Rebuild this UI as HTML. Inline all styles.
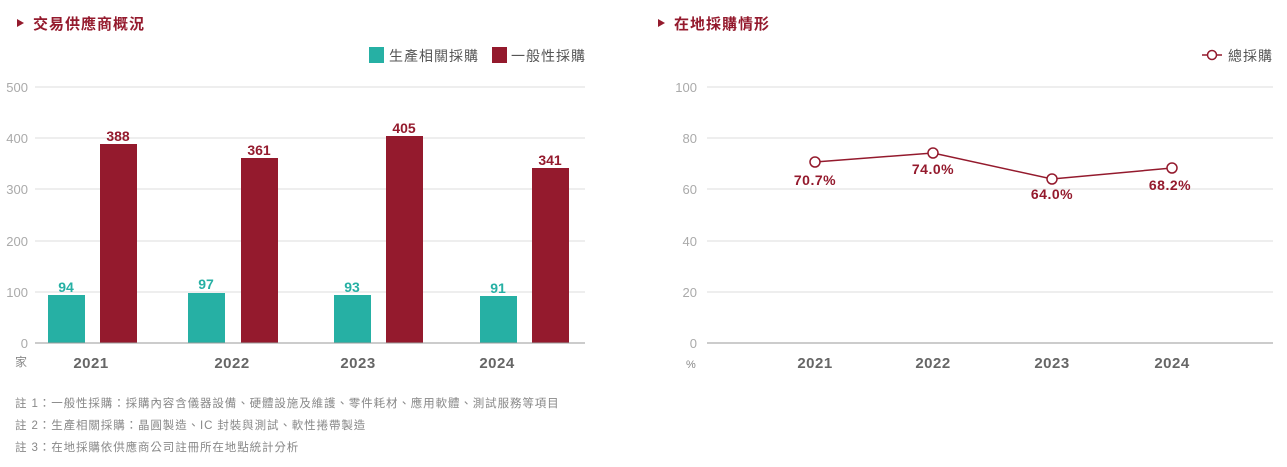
<!DOCTYPE html>
<html><head><meta charset="utf-8"><style>
body{margin:0;background:#fff;width:1287px;height:462px;overflow:hidden;font-family:"Liberation Sans","Noto Sans CJK TC",sans-serif}
svg text{font-family:"Liberation Sans","Noto Sans CJK TC",sans-serif}
</style></head><body>
<svg width="1287" height="462" xmlns="http://www.w3.org/2000/svg">
<polygon points="17,19 17,27 24,23" fill="#941a2d"/>
<text x="33" y="29" font-size="15" font-weight="bold" fill="#941a2d" letter-spacing="1">交易供應商概況</text>
<polygon points="658,19 658,27 665,23" fill="#941a2d"/>
<text x="674" y="29" font-size="15" font-weight="bold" fill="#941a2d" letter-spacing="1">在地採購情形</text>
<rect x="369" y="47" width="15" height="16" fill="#26b0a4"/>
<text x="389" y="61" font-size="14" fill="#555" letter-spacing="1">生產相關採購</text>
<rect x="492" y="47" width="15" height="16" fill="#941a2d"/>
<text x="511" y="61" font-size="14" fill="#555" letter-spacing="1">一般性採購</text>
<g stroke="#ddd" stroke-width="1">
<line x1="35" y1="87" x2="585" y2="87"/><line x1="35" y1="138" x2="585" y2="138"/>
<line x1="35" y1="189" x2="585" y2="189"/><line x1="35" y1="241" x2="585" y2="241"/>
<line x1="35" y1="292" x2="585" y2="292"/>
</g>
<g font-size="13" fill="#aaa" text-anchor="end">
<text x="28" y="92">500</text><text x="28" y="143">400</text><text x="28" y="194">300</text>
<text x="28" y="246">200</text><text x="28" y="297">100</text><text x="28" y="348">0</text>
</g>
<g fill="#26b0a4">
<rect x="48" y="295" width="37" height="48"/><rect x="188" y="293" width="37" height="50"/>
<rect x="334" y="295" width="37" height="48"/><rect x="480" y="296" width="37" height="47"/>
</g>
<g fill="#941a2d">
<rect x="100" y="144" width="37" height="199"/><rect x="241" y="158" width="37" height="185"/>
<rect x="386" y="136" width="37" height="207"/><rect x="532" y="168" width="37" height="175"/>
</g>
<line x1="35" y1="343" x2="585" y2="343" stroke="#999" stroke-width="1"/>
<g font-size="14" font-weight="bold" text-anchor="middle" fill="#26b0a4">
<text x="66" y="292">94</text><text x="206" y="289">97</text><text x="352" y="292">93</text><text x="498" y="293">91</text>
</g>
<g font-size="14" font-weight="bold" text-anchor="middle" fill="#941a2d">
<text x="118" y="141">388</text><text x="259" y="155">361</text><text x="404" y="133">405</text><text x="550" y="165">341</text>
</g>
<text x="15" y="366" font-size="12" fill="#888">家</text>
<g font-size="15" font-weight="bold" text-anchor="middle" fill="#666" letter-spacing="0.5">
<text x="91" y="368">2021</text><text x="232" y="368">2022</text><text x="358" y="368">2023</text><text x="497" y="368">2024</text>
</g>
<g font-size="11.5" fill="#888" letter-spacing="0.9">
<text x="15" y="407">註 1：一般性採購：採購內容含儀器設備、硬體設施及維護、零件耗材、應用軟體、測試服務等項目</text>
<text x="15" y="429">註 2：生產相關採購：晶圓製造、IC 封裝與測試、軟性捲帶製造</text>
<text x="15" y="451">註 3：在地採購依供應商公司註冊所在地點統計分析</text>
</g>
<line x1="1202" y1="55" x2="1222" y2="55" stroke="#941a2d" stroke-width="1.5"/>
<circle cx="1212" cy="55" r="4.5" fill="#fff" stroke="#941a2d" stroke-width="1.5"/>
<text x="1228" y="61" font-size="14" fill="#555" letter-spacing="1">總採購</text>
<g stroke="#ddd" stroke-width="1">
<line x1="707" y1="87" x2="1273" y2="87"/><line x1="707" y1="138" x2="1273" y2="138"/>
<line x1="707" y1="189" x2="1273" y2="189"/><line x1="707" y1="241" x2="1273" y2="241"/>
<line x1="707" y1="292" x2="1273" y2="292"/>
</g>
<line x1="707" y1="343" x2="1273" y2="343" stroke="#999" stroke-width="1"/>
<g font-size="13" fill="#aaa" text-anchor="end">
<text x="697" y="92">100</text><text x="697" y="143">80</text><text x="697" y="194">60</text>
<text x="697" y="246">40</text><text x="697" y="297">20</text><text x="697" y="348">0</text>
</g>
<polyline points="815,162 933,153 1052,179 1172,168" fill="none" stroke="#941a2d" stroke-width="1.5"/>
<g fill="#fff" stroke="#941a2d" stroke-width="1.5">
<circle cx="815" cy="162" r="5"/><circle cx="933" cy="153" r="5"/><circle cx="1052" cy="179" r="5"/><circle cx="1172" cy="168" r="5"/>
</g>
<g font-size="14" font-weight="bold" text-anchor="middle" fill="#941a2d" letter-spacing="0.5">
<text x="815" y="185">70.7%</text><text x="933" y="174">74.0%</text><text x="1052" y="199">64.0%</text><text x="1170" y="190">68.2%</text>
</g>
<text x="686" y="368" font-size="11" fill="#888">%</text>
<g font-size="15" font-weight="bold" text-anchor="middle" fill="#666" letter-spacing="0.5">
<text x="815" y="368">2021</text><text x="933" y="368">2022</text><text x="1052" y="368">2023</text><text x="1172" y="368">2024</text>
</g>
</svg>
</body></html>
